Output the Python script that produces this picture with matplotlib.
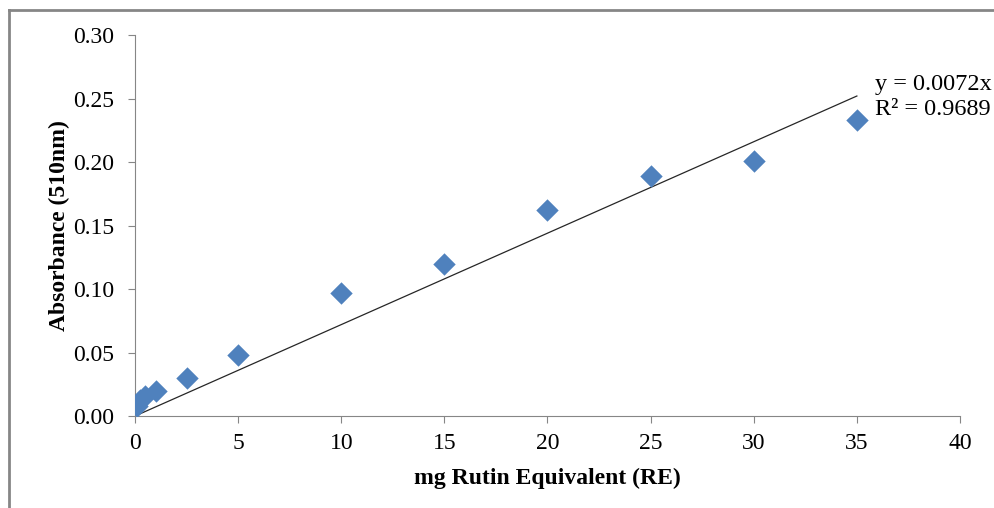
import numpy as np
import matplotlib.pyplot as plt
from matplotlib.lines import Line2D

# rutin calibration data
conc = [0.1, 0.25, 0.5, 1, 2.5, 5, 10, 15, 20, 25, 30, 35]
absorb = [0.008, 0.013, 0.016, 0.020, 0.030, 0.048, 0.097, 0.120, 0.162, 0.189, 0.201, 0.233]
slope = 0.0072
r2 = 0.9689

plt.rcParams['font.family'] = ['Liberation Serif', 'DejaVu Serif']

fig = plt.figure(figsize=(9.94, 5.08), dpi=100)
ax = fig.add_axes([0.1358, 0.181, 0.830, 0.750])

gray = '#868686'
ax.scatter(conc, absorb, marker='D', s=130, color='#4F81BD', zorder=3, linewidths=0)
xl = np.array([0, 35])
ax.plot(xl, slope * xl, color='#262626', lw=0.9, zorder=2)

ax.set_xlim(0, 40)
ax.set_ylim(0, 0.30)
ax.set_xticks(range(0, 41, 5))
ax.set_yticks(np.arange(0, 0.301, 0.05))
ax.set_yticklabels(['%.2f' % v for v in np.arange(0, 0.301, 0.05)])
for s in ['top', 'right']:
    ax.spines[s].set_visible(False)
for s in ['left', 'bottom']:
    ax.spines[s].set_color(gray)
ax.tick_params(direction='out', length=5, color=gray, labelsize=17)
ax.tick_params(axis='y', pad=10)
ax.tick_params(axis='x', pad=7)

ax.set_xlabel('mg Rutin Equivalent (RE)', fontsize=17, fontweight='bold', labelpad=10)
ax.set_ylabel('Absorbance (510nm)', fontsize=17, fontweight='bold', labelpad=2)

ax.text(35.9, 0.2515, 'y = 0.0072x\nR² = 0.9689', fontsize=17.5, va='center', ha='left',
        linespacing=1.25)

# outer chart frame
fig.add_artist(Line2D([0.0091, 0.0091], [0, 0.980], transform=fig.transFigure, color=gray, lw=2))
fig.add_artist(Line2D([0.0091, 1], [0.980, 0.980], transform=fig.transFigure, color=gray, lw=2))

plt.savefig('out.png')
